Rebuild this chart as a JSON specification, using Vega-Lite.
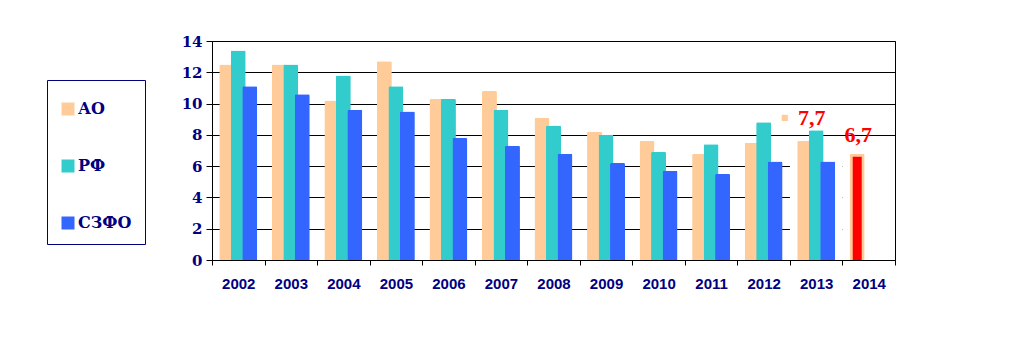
{
  "$schema": "https://vega.github.io/schema/vega-lite/v6.json",
  "width": 683,
  "height": 219,
  "autosize": {"type": "none"},
  "padding": {"left": 212, "top": 41, "right": 137, "bottom": 100},
  "background": "white",
  "config": {"view": {"stroke": "#000", "strokeWidth": 1}},
  "datasets": {
    "main": [
      {"year": "2002", "series": "АО", "value": 12.5},
      {"year": "2002", "series": "РФ", "value": 13.4},
      {"year": "2002", "series": "СЗФО", "value": 11.1},
      {"year": "2003", "series": "АО", "value": 12.5},
      {"year": "2003", "series": "РФ", "value": 12.5},
      {"year": "2003", "series": "СЗФО", "value": 10.6},
      {"year": "2004", "series": "АО", "value": 10.2},
      {"year": "2004", "series": "РФ", "value": 11.8},
      {"year": "2004", "series": "СЗФО", "value": 9.6},
      {"year": "2005", "series": "АО", "value": 12.7},
      {"year": "2005", "series": "РФ", "value": 11.1},
      {"year": "2005", "series": "СЗФО", "value": 9.5},
      {"year": "2006", "series": "АО", "value": 10.3},
      {"year": "2006", "series": "РФ", "value": 10.3},
      {"year": "2006", "series": "СЗФО", "value": 7.8},
      {"year": "2007", "series": "АО", "value": 10.8},
      {"year": "2007", "series": "РФ", "value": 9.6},
      {"year": "2007", "series": "СЗФО", "value": 7.3},
      {"year": "2008", "series": "АО", "value": 9.1},
      {"year": "2008", "series": "РФ", "value": 8.6},
      {"year": "2008", "series": "СЗФО", "value": 6.8},
      {"year": "2009", "series": "АО", "value": 8.2},
      {"year": "2009", "series": "РФ", "value": 8.0},
      {"year": "2009", "series": "СЗФО", "value": 6.2},
      {"year": "2010", "series": "АО", "value": 7.6},
      {"year": "2010", "series": "РФ", "value": 6.9},
      {"year": "2010", "series": "СЗФО", "value": 5.7},
      {"year": "2011", "series": "АО", "value": 6.8},
      {"year": "2011", "series": "РФ", "value": 7.4},
      {"year": "2011", "series": "СЗФО", "value": 5.5},
      {"year": "2012", "series": "АО", "value": 7.5},
      {"year": "2012", "series": "РФ", "value": 8.8},
      {"year": "2012", "series": "СЗФО", "value": 6.3},
      {"year": "2013", "series": "АО", "value": 7.6},
      {"year": "2013", "series": "РФ", "value": 8.3},
      {"year": "2013", "series": "СЗФО", "value": 6.3},
      {"year": "2014", "series": "АО", "value": 6.8}
    ],
    "red": [{"year": "2014", "series": "АО", "value": 6.6}],
    "mask": [{"year": "2013", "value": 7.1}, {"year": "2014", "value": 7.1}],
    "note77": [{"year": "2013", "series": "АО", "value": 8.63, "label": "7,7"}],
    "note67": [{"year": "2014", "series": "АО", "value": 7.56, "label": "6,7"}],
    "marker": [{"year": "2013", "series": "АО", "value": 9.08, "label": "■"}]
  },
  "encoding": {
    "x": {
      "field": "year",
      "type": "nominal",
      "scale": {"domain": ["2002","2003","2004","2005","2006","2007","2008","2009","2010","2011","2012","2013","2014"], "paddingInner": 0, "paddingOuter": 0},
      "axis": {
        "title": null,
        "labelAngle": 0,
        "tickBand": "extent",
        "tickSize": 5,
        "tickColor": "#000",
        "domainColor": "#000",
        "labelFont": "Liberation Sans",
        "labelFontWeight": "bold",
        "labelFontSize": 15,
        "labelColor": "#000080",
        "labelPadding": 11,
        "grid": false,
        "zindex": 1
      }
    },
    "y": {
      "field": "value",
      "type": "quantitative",
      "scale": {"domain": [0, 14], "nice": false, "zero": true},
      "axis": {
        "title": null,
        "values": [0, 2, 4, 6, 8, 10, 12, 14],
        "grid": true,
        "gridColor": "#000",
        "gridOpacity": 1,
        "gridWidth": 1,
        "domainColor": "#000",
        "tickColor": "#000",
        "tickSize": 6,
        "labelPadding": 4,
        "labelFont": "DejaVu Serif",
        "labelFontWeight": "bold",
        "labelFontSize": 15,
        "labelColor": "#000080"
      }
    }
  },
  "layer": [
    {
      "data": {"name": "mask"},
      "mark": {"type": "bar", "color": "white"}
    },
    {
      "data": {"name": "main"},
      "mark": {"type": "bar", "width": 15, "cornerRadiusEnd": 1.5},
      "encoding": {
        "xOffset": {"field": "series", "type": "nominal", "scale": {"domain": ["АО", "РФ", "СЗФО"], "paddingInner": 0, "paddingOuter": 0.7826}},
        "color": {
          "field": "series",
          "type": "nominal",
          "scale": {"domain": ["АО", "РФ", "СЗФО"], "range": ["#FFCC99", "#33CCCC", "#3366FF"]},
          "legend": {
            "orient": "none",
            "legendX": -165,
            "legendY": 39,
            "direction": "vertical",
            "title": " ",
            "titleFontSize": 7,
            "titlePadding": 1,
            "symbolType": "square",
            "symbolSize": 169,
            "symbolStrokeWidth": 0,
            "symbolOpacity": 1,
            "labelFont": "DejaVu Serif",
            "labelFontWeight": "bold",
            "labelFontSize": 16,
            "labelColor": "#000080",
            "labelOffset": 2,
            "rowPadding": 41,
            "padding": 13,
            "strokeColor": "#000080",
            "fillColor": "white"
          }
        }
      }
    },
    {
      "data": {"name": "red"},
      "mark": {"type": "bar", "width": 9, "color": "#FF0000"},
      "encoding": {
        "xOffset": {"field": "series", "type": "nominal"}
      }
    },
    {
      "data": {"name": "note77"},
      "mark": {"type": "text", "font": "Liberation Serif", "fontWeight": "bold", "fontSize": 22, "color": "#FF0000", "baseline": "alphabetic", "align": "center", "dx": 7},
      "encoding": {
        "xOffset": {"field": "series", "type": "nominal"},
        "text": {"field": "label"}
      }
    },
    {
      "data": {"name": "note67"},
      "mark": {"type": "text", "font": "Liberation Serif", "fontWeight": "bold", "fontSize": 22, "color": "#FF0000", "baseline": "alphabetic", "align": "center", "dx": 1},
      "encoding": {
        "xOffset": {"field": "series", "type": "nominal"},
        "text": {"field": "label"}
      }
    },
    {
      "data": {"name": "marker"},
      "mark": {"type": "text", "font": "DejaVu Sans", "fontSize": 8, "color": "#FFCC99", "baseline": "middle", "align": "center", "dx": -20},
      "encoding": {
        "xOffset": {"field": "series", "type": "nominal"},
        "text": {"field": "label"}
      }
    }
  ]
}
